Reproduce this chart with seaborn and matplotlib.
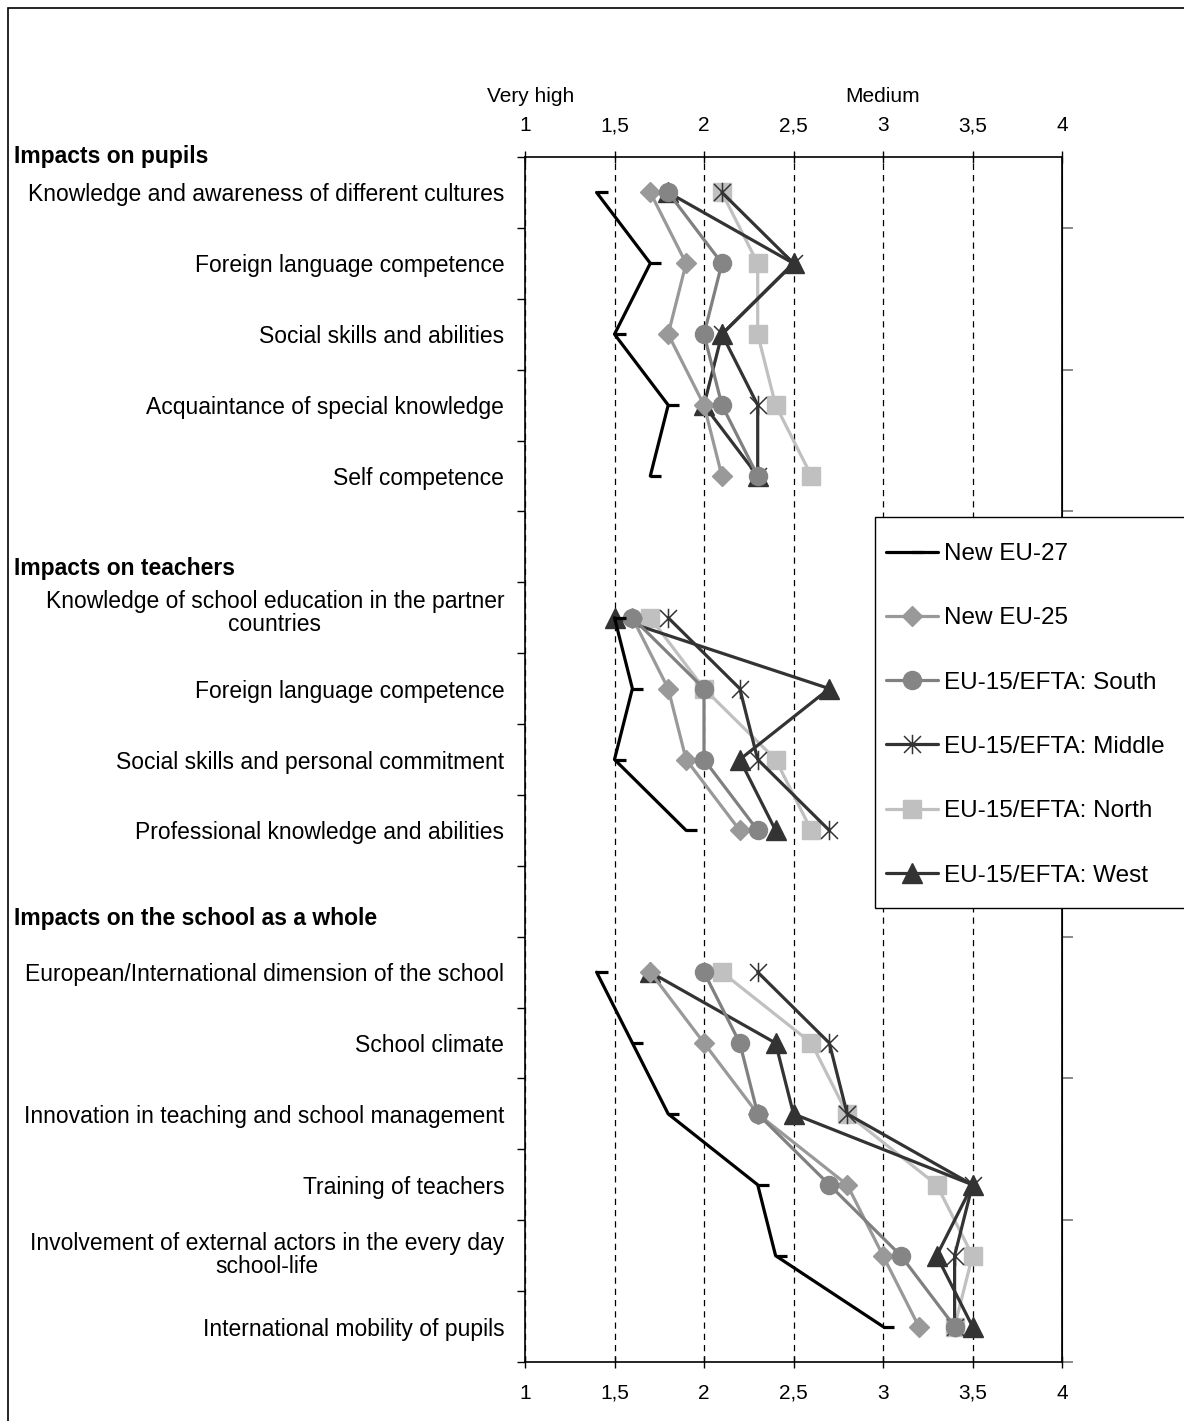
import numpy as np
import pandas as pd
import matplotlib
matplotlib.use("Agg")
import matplotlib.pyplot as plt
import matplotlib.transforms as mtransforms
from matplotlib.path import Path
from matplotlib.patches import Rectangle
import seaborn as sns

# Kategorien (17 Zeilen, Zeile 5 und 10 sind leer)
items = [
    "Knowledge and awareness of different cultures",
    "Foreign language competence",
    "Social skills and abilities",
    "Acquaintance of special knowledge",
    "Self competence",
    "",
    "Knowledge of school education in the partner\ncountries",
    "Foreign language competence",
    "Social skills and personal commitment",
    "Professional knowledge and abilities",
    "",
    "European/International dimension of the school",
    "School climate",
    "Innovation in teaching and school management",
    "Training of teachers",
    "Involvement of external actors in the every day\nschool-life",
    "International mobility of pupils",
]
groups = ["pupils"] * 5 + [""] + ["teachers"] * 4 + [""] + ["school"] * 6
headers = ["Impacts on pupils", "Impacts on teachers", "Impacts on the school as a whole"]
header_pos = [-0.5, 5.3, 10.25]

nan = np.nan
new_eu27 = [1.4, 1.7, 1.5, 1.8, 1.7, nan, 1.5, 1.6, 1.5, 1.9, nan, 1.4, 1.6, 1.8, 2.3, 2.4, 3.0]
new_eu25 = [1.7, 1.9, 1.8, 2.0, 2.1, nan, 1.6, 1.8, 1.9, 2.2, nan, 1.7, 2.0, 2.3, 2.8, 3.0, 3.2]
south = [1.8, 2.1, 2.0, 2.1, 2.3, nan, 1.6, 2.0, 2.0, 2.3, nan, 2.0, 2.2, 2.3, 2.7, 3.1, 3.4]
middle = [2.1, 2.5, 2.1, 2.3, 2.3, nan, 1.8, 2.2, 2.3, 2.7, nan, 2.3, 2.7, 2.8, 3.5, 3.4, 3.4]
north = [2.1, 2.3, 2.3, 2.4, 2.6, nan, 1.7, 2.0, 2.4, 2.6, nan, 2.1, 2.6, 2.8, 3.3, 3.5, 3.4]
west = [1.8, 2.5, 2.1, 2.0, 2.3, nan, 1.5, 2.7, 2.2, 2.4, nan, 1.7, 2.4, 2.5, 3.5, 3.3, 3.5]

series_names = ["New EU-27", "New EU-25", "EU-15/EFTA: South",
                "EU-15/EFTA: Middle", "EU-15/EFTA: North", "EU-15/EFTA: West"]
series_vals = [new_eu27, new_eu25, south, middle, north, west]

xticks = [1, 1.5, 2, 2.5, 3, 3.5, 4]
xtick_labels = ["1", "1,5", "2", "2,5", "3", "3,5", "4"]

rows = []
for name, vals in zip(series_names, series_vals):
    for i, v in enumerate(vals):
        if not np.isnan(v):
            rows.append({"series": name, "pos": i, "group": groups[i], "value": v})
df = pd.DataFrame(rows)

# Sternmarker wie in Excel (X mit senkrechtem Strich)
star = Path([(-1, -1), (1, 1), (-1, 1), (1, -1), (0, -1.15), (0, 1.15)],
            [Path.MOVETO, Path.LINETO, Path.MOVETO, Path.LINETO, Path.MOVETO, Path.LINETO])

styles = {
    "New EU-27": dict(color="black", marker=1, ms=8, mfc="black", mec="black", mew=2.3, z=8),
    "New EU-25": dict(color="#999999", marker="D", ms=10, mfc="#999999", mec="#999999", mew=1, z=6),
    "EU-15/EFTA: South": dict(color="#808080", marker="o", ms=13, mfc="#858585", mec="#858585", mew=1, z=7),
    "EU-15/EFTA: Middle": dict(color="#333333", marker=star, ms=14, mfc="none", mec="#333333", mew=1.1, z=4),
    "EU-15/EFTA: North": dict(color="#c0c0c0", marker="s", ms=13, mfc="#c0c0c0", mec="#c0c0c0", mew=1, z=3),
    "EU-15/EFTA: West": dict(color="#333333", marker="^", ms=14, mfc="#333333", mec="#333333", mew=1, z=5),
}

sns.set_style("white")
plt.rcParams["font.family"] = ["Liberation Sans", "DejaVu Sans"]
plt.rcParams["text.color"] = "black"
plt.rcParams["xtick.color"] = "black"
plt.rcParams["ytick.color"] = "black"
plt.rcParams["axes.labelcolor"] = "black"

W, H = 1184, 1421
fig = plt.figure(figsize=(W / 100, H / 100), dpi=100)
ax_l, ax_r, ax_t, ax_b = 525, 1062, 157, 1362
ax = fig.add_axes([ax_l / W, 1 - ax_b / H, (ax_r - ax_l) / W, (ax_b - ax_t) / H])

handles = {}
for name in series_names:
    st = styles[name]
    n0 = len(ax.lines)
    sns.lineplot(data=df[df.series == name], x="value", y="pos", units="group",
                 estimator=None, sort=False, orient="y", ax=ax,
                 color=st["color"], lw=2.3, marker=st["marker"], ms=st["ms"],
                 mfc=st["mfc"], mec=st["mec"], mew=st["mew"], zorder=st["z"],
                 clip_on=False)
    handles[name] = ax.lines[n0]

ax.set_xlim(1, 4)
ax.set_ylim(16.5, -0.5)
ax.set_xlabel("")
ax.set_ylabel("")

ax.set_xticks(xticks, xtick_labels)
ax.tick_params(axis="x", top=True, bottom=True, labeltop=True, labelbottom=True,
               direction="inout", length=9, width=1, color="black", pad=11,
               labelsize=15, labelcolor="black")
ax.grid(axis="x", color="black", lw=0.9, linestyle=(0, (5, 4)))
ax.grid(axis="y", visible=False)

label_pos = [i for i, t in enumerate(items) if t]
ax.set_yticks(label_pos, [items[i] for i in label_pos])
ax.set_yticks(np.arange(-0.5, 17, 1), minor=True)
ax.tick_params(axis="y", which="major", length=0, pad=15, labelsize=16.5, labelcolor="black")
ax.tick_params(axis="y", which="minor", left=True, direction="out", length=6, width=1, color="black")
shift = {6: 7, 15: 3}
for p, lab in zip(label_pos, ax.get_yticklabels()):
    lab.set_multialignment("center")
    if p in shift:
        lab.set_linespacing(1.0)
        lab.set_transform(lab.get_transform() +
                          mtransforms.ScaledTranslation(0, shift[p] / 100, fig.dpi_scale_trans))

for sp in ax.spines.values():
    sp.set_color("black")
    sp.set_linewidth(1.2)

# rechte Achse mit Strichen bei jeder zweiten Grenze
sec = ax.secondary_yaxis("right")
sec.set_yticks(np.arange(0.5, 17, 2))
sec.tick_params(direction="out", length=8, width=1.2, color="#777777", labelright=False)
sec.spines["right"].set_color("black")

# Überschriften der Gruppen
tr = mtransforms.blended_transform_factory(fig.transFigure, ax.transData)
for h, p in zip(headers, header_pos):
    ax.text(14 / W, p, h, transform=tr, fontsize=16.5, fontweight="bold",
            ha="left", va="center", color="black")

tr2 = mtransforms.blended_transform_factory(ax.transData, fig.transFigure)
ax.text(1.03, 1 - 102 / H, "Very high", transform=tr2, fontsize=15, ha="center", va="baseline")
ax.text(3.0, 1 - 102 / H, "Medium", transform=tr2, fontsize=15, ha="center", va="baseline")

# Legende mit Rahmen
fig.patches.append(Rectangle((875 / W, 1 - 908 / H), 330 / W, (908 - 517) / H,
                             transform=fig.transFigure, fill=True, facecolor="white",
                             edgecolor="black", lw=1, zorder=10))
leg = fig.legend([handles[n] for n in series_names], series_names,
                 loc="upper left", bbox_to_anchor=(886 / W, 1 - 543 / H),
                 frameon=False, fontsize=17.5, borderpad=0, borderaxespad=0,
                 handlelength=2.15, handletextpad=0.25, labelspacing=1.74)
leg.set_zorder(11)
for t in leg.get_texts():
    t.set_color("black")

# äußerer Rahmen der Grafik
fig.patches.append(Rectangle((8 / W, -0.1), 1.2, 1 - 8 / H + 0.1,
                             transform=fig.transFigure, fill=False,
                             edgecolor="black", lw=1.2, zorder=0))

fig.savefig("out.png", dpi=100)
